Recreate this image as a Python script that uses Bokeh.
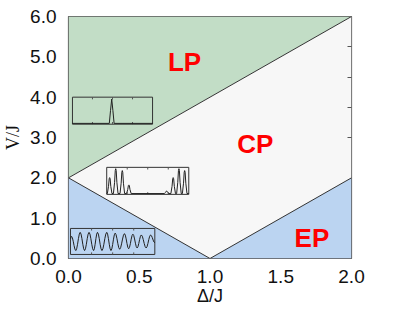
import numpy as np
from bokeh.plotting import figure
from bokeh.models import Range1d, LinearAxis, FixedTicker, NumeralTickFormatter, ColumnDataSource
from bokeh.core.properties import value
from bokeh.embed import file_html
from bokeh.resources import INLINE

# ---- phase diagram data ----
lp_x = [0.0, 2.0, 0.0]
lp_y = [2.0, 6.0, 6.0]
cp_x = [0.0, 2.0, 2.0, 1.0]
cp_y = [2.0, 6.0, 2.0, 0.0]
ep1_x = [0.0, 0.0, 1.0]
ep1_y = [0.0, 2.0, 0.0]
ep2_x = [1.0, 2.0, 2.0]
ep2_y = [0.0, 2.0, 0.0]
bnd_x0 = [0.0, 0.0, 1.0]
bnd_y0 = [2.0, 2.0, 0.0]
bnd_x1 = [2.0, 1.0, 2.0]
bnd_y1 = [6.0, 0.0, 2.0]

region_names = ["LP", "CP", "EP"]
region_x = [0.82, 1.32, 1.72]
region_y = [4.87, 2.83, 0.52]

x_ticks = [0.0, 0.5, 1.0, 1.5, 2.0]
y_ticks = [0.0, 1.0, 2.0, 3.0, 4.0, 5.0, 6.0]
right_ticks = [3.0, 3.75, 4.5, 5.25]

# ---- inset data (local coords 0..1) ----
ins1_x = [0.0, 0.46, 0.475, 0.49, 0.505, 0.52, 1.0]
ins1_y = [0.03, 0.03, 0.5, 0.93, 0.5, 0.03, 0.03]

ins2_peak_x = [0.036, 0.11, 0.19, 0.27, 0.73, 0.81, 0.88, 0.95]
ins2_peak_h = [0.62, 0.95, 0.88, 0.35, 0.12, 0.62, 0.95, 0.88]

ins3_ext_x = [0.0, 0.012, 0.063, 0.115, 0.167, 0.22, 0.274, 0.32, 0.373, 0.43,
              0.48, 0.53, 0.583, 0.64, 0.69, 0.74, 0.79, 0.84, 0.897, 0.95, 1.0]
ins3_ext_y = [0.6, 0.7, 0.15, 0.85, 0.15, 0.85, 0.15, 0.85, 0.15, 0.85,
              0.15, 0.82, 0.2, 0.8, 0.22, 0.78, 0.25, 0.75, 0.25, 0.75, 0.45]

# inset boxes: (x0, x1, y0, y1) in data coords
ins_boxes = [(0.028, 0.594, 3.33, 4.0),
             (0.27, 0.85, 1.59, 2.26),
             (0.014, 0.61, 0.10, 0.745)]

p = figure(frame_width=283, frame_height=242, x_range=Range1d(0, 2), y_range=Range1d(0, 6),
           output_backend="svg", toolbar_location=None,
           min_border_left=61, min_border_right=47, min_border_top=16, min_border_bottom=44)
p.grid.visible = False
p.background_fill_color = "white"
p.outline_line_color = "#555555"
p.outline_line_width = 1.2

p.patch(lp_x, lp_y, fill_color="#c2ddc6", line_color=None)
p.patch(cp_x, cp_y, fill_color="#f7f7f7", line_color=None)
p.patch(ep1_x, ep1_y, fill_color="#bbd4f1", line_color=None)
p.patch(ep2_x, ep2_y, fill_color="#bbd4f1", line_color=None)
p.segment(bnd_x0, bnd_y0, bnd_x1, bnd_y1, line_color="#333333", line_width=1)

src = ColumnDataSource(dict(x=region_x, y=region_y, t=region_names))
p.text("x", "y", text="t", source=src, text_color="#ff0000", text_font=value("Liberation Sans"),
       text_font_style="bold", text_font_size="26px", text_align="center", text_baseline="middle")

def to_box(box, lx, ly):
    x0, x1, y0, y1 = box
    return [x0 + (x1 - x0) * v for v in lx], [y0 + (y1 - y0) * v for v in ly]

def draw_box(box):
    x0, x1, y0, y1 = box
    p.line([x0, x1, x1, x0, x0], [y0, y0, y1, y1, y0], line_color="#333333", line_width=1)
    tl = (y1 - y0) * 0.08
    tx = [x0 + (x1 - x0) * f for f in (0.25, 0.5, 0.75)]
    p.segment(tx + tx, [y0] * 3 + [y1] * 3, tx + tx, [y0 + tl] * 3 + [y1 - tl] * 3,
              line_color="#555555", line_width=1)

# inset 1
draw_box(ins_boxes[0])
xs, ys = to_box(ins_boxes[0], ins1_x, ins1_y)
p.line(xs, ys, line_color="#222222", line_width=1)

# inset 2
draw_box(ins_boxes[1])
lx, ly = [0.0], [0.03]
w = 0.028
for cx, h in zip(ins2_peak_x, ins2_peak_h):
    for off, f in zip((-w, -w / 2, -w / 5, 0, w / 5, w / 2, w), (0, 0.45, 0.93, 1, 0.93, 0.45, 0)):
        lx.append(cx + off)
        ly.append(0.03 + (h - 0.03) * f)
lx.append(1.0); ly.append(0.03)
xs, ys = to_box(ins_boxes[1], lx, ly)
p.line(xs, ys, line_color="#222222", line_width=1)

# inset 3: smooth between extrema (half-cosine)
draw_box(ins_boxes[2])
lx, ly = [], []
for i in range(len(ins3_ext_x) - 1):
    xa, xb = ins3_ext_x[i], ins3_ext_x[i + 1]
    ya, yb = ins3_ext_y[i], ins3_ext_y[i + 1]
    for t in np.linspace(0, 1, 6)[:-1]:
        lx.append(xa + (xb - xa) * t)
        ly.append(ya + (yb - ya) * (1 - np.cos(np.pi * t)) / 2)
lx.append(ins3_ext_x[-1]); ly.append(ins3_ext_y[-1])
xs, ys = to_box(ins_boxes[2], lx, ly)
p.line(xs, ys, line_color="#222222", line_width=1)

# axes
for ax in (p.xaxis[0], p.yaxis[0]):
    ax.axis_line_color = None
    ax.major_tick_line_color = None
    ax.minor_tick_line_color = None
    ax.major_label_text_font = "Liberation Sans"
    ax.major_label_text_font_size = "19px"
    ax.major_label_text_color = "#111111"
    ax.formatter = NumeralTickFormatter(format="0.0")
    ax.axis_label_text_font_style = "normal"
    ax.axis_label_text_font_size = "18px"
    ax.axis_label_text_color = "#111111"
p.xaxis[0].ticker = FixedTicker(ticks=x_ticks)
p.yaxis[0].ticker = FixedTicker(ticks=y_ticks)
p.xaxis[0].axis_label = "Δ/J"
p.xaxis[0].axis_label_text_font = "Liberation Sans"
p.xaxis[0].major_label_standoff = 5
p.xaxis[0].axis_label_standoff = 0
p.yaxis[0].axis_label = "V/J"
p.yaxis[0].axis_label_text_font = "Liberation Serif"
p.yaxis[0].major_label_standoff = 6
p.yaxis[0].axis_label_standoff = 4

rax = LinearAxis(ticker=FixedTicker(ticks=right_ticks), axis_line_color=None,
                 major_tick_in=4, major_tick_out=0, major_tick_line_color="#555555",
                 minor_tick_line_color=None, major_label_text_color=None,
                 major_label_text_font_size="1px")
p.add_layout(rax, "right")

open("out.html", "w").write(file_html(p, INLINE))
